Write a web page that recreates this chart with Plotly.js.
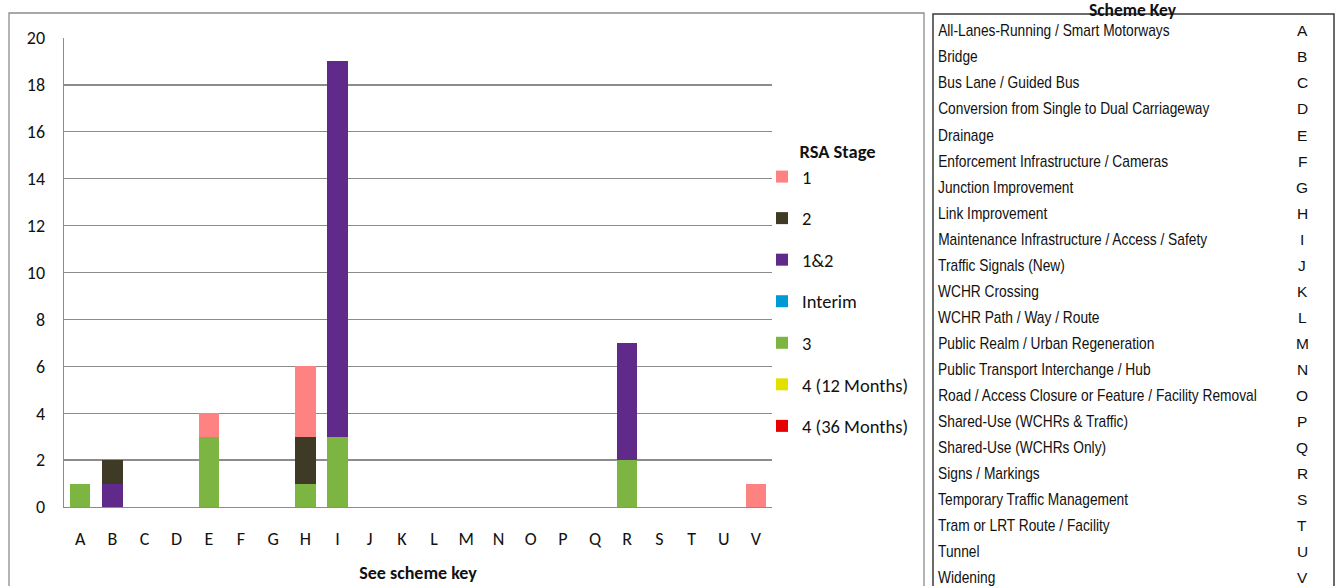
<!DOCTYPE html>
<html>
<head>
<meta charset="utf-8">
<script src="https://cdn.plot.ly/plotly-3.0.1.min.js"></script>
<style>
  html, body { margin: 0; padding: 0; background: #fff; }
  #chart { width: 1336px; height: 586px; }
</style>
</head>
<body>
<div id="chart"></div>
<script>
// Scheme categories (x axis) and their descriptions for the key
const categories = ['A','B','C','D','E','F','G','H','I','J','K','L','M','N','O','P','Q','R','S','T','U','V'];
const schemeNames = [
  'All-Lanes-Running / Smart Motorways',
  'Bridge',
  'Bus Lane / Guided Bus',
  'Conversion from Single to Dual Carriageway',
  'Drainage',
  'Enforcement Infrastructure / Cameras',
  'Junction Improvement',
  'Link Improvement',
  'Maintenance Infrastructure / Access / Safety',
  'Traffic Signals (New)',
  'WCHR Crossing',
  'WCHR Path / Way / Route',
  'Public Realm / Urban Regeneration',
  'Public Transport Interchange / Hub',
  'Road / Access Closure or Feature / Facility Removal',
  'Shared-Use (WCHRs & Traffic)',
  'Shared-Use (WCHRs Only)',
  'Signs / Markings',
  'Temporary Traffic Management',
  'Tram or LRT Route / Facility',
  'Tunnel',
  'Widening'
];

// Number of audits per RSA stage, by scheme category (A..V)
const stage1      = [0,0,0,0,1,0,0,3,0,0,0,0,0,0,0,0,0,0,0,0,0,1];
const stage2      = [0,1,0,0,0,0,0,2,0,0,0,0,0,0,0,0,0,0,0,0,0,0];
const stage1and2  = [0,1,0,0,0,0,0,0,16,0,0,0,0,0,0,0,0,5,0,0,0,0];
const interim     = [0,0,0,0,0,0,0,0,0,0,0,0,0,0,0,0,0,0,0,0,0,0];
const stage3      = [1,0,0,0,3,0,0,1,3,0,0,0,0,0,0,0,0,2,0,0,0,0];
const stage4m12   = [0,0,0,0,0,0,0,0,0,0,0,0,0,0,0,0,0,0,0,0,0,0];
const stage4m36   = [0,0,0,0,0,0,0,0,0,0,0,0,0,0,0,0,0,0,0,0,0,0];

const stageNames = ['1', '2', '1&2', 'Interim', '3', '4 (12 Months)', '4 (36 Months)'];

// Stacked bottom-to-top; legend rank puts stage 1 first
const seriesDefs = [
  { name: stageNames[6], y: stage4m36,  color: '#E60000', rank: 7 },
  { name: stageNames[5], y: stage4m12,  color: '#E3E000', rank: 6 },
  { name: stageNames[4], y: stage3,     color: '#7DB543', rank: 5 },
  { name: stageNames[3], y: interim,    color: '#0099D8', rank: 4 },
  { name: stageNames[2], y: stage1and2, color: '#5F2A8A', rank: 3 },
  { name: stageNames[1], y: stage2,     color: '#3E3A25', rank: 2 },
  { name: stageNames[0], y: stage1,     color: '#FF8282', rank: 1 }
];

const traces = seriesDefs.map((s, i) => ({
  type: 'bar',
  name: s.name,
  x: categories,
  y: s.y,
  legendgroup: 'g' + s.rank,
  legendrank: s.rank,
  marker: { color: s.color, line: { width: 0 } },
  hoverinfo: 'x+y+name'
}));

// Plot area in pixels
const W = 1336, H = 586;
const PL = 64, PR = 772, PT = 38, PB = 507;
const fx = px => (px - PL) / (PR - PL);
const fy = py => (PB - py) / (PB - PT);

const chartFont = 'Carlito, Lato, "Open Sans", sans-serif';
const keyFont = '"Liberation Sans", Arial, sans-serif';

const shapes = [
  // chart frame
  { type: 'rect', xref: 'paper', yref: 'paper',
    x0: fx(9), x1: fx(924), y0: fy(600), y1: fy(13),
    line: { color: '#8c8c8c', width: 1.3 }, fillcolor: 'rgba(0,0,0,0)', layer: 'below' },
  // scheme key box
  { type: 'rect', xref: 'paper', yref: 'paper',
    x0: fx(933), x1: fx(1334), y0: fy(600), y1: fy(14),
    line: { color: '#3a3a3a', width: 1.5 }, fillcolor: 'rgba(0,0,0,0)', layer: 'below' }
];

const annotations = [
  { text: '<b>Scheme Key</b>', xref: 'paper', yref: 'paper',
    x: fx(1133), y: fy(10.5), xanchor: 'center', yanchor: 'middle', showarrow: false,
    borderpad: 0,
    font: { family: chartFont, size: 17.5, color: '#111' } }
];
const nameIdx = [];
schemeNames.forEach((name, i) => {
  const rowY = 30.8 + i * 26.05;
  nameIdx.push(annotations.length);
  annotations.push({
    text: name, xref: 'paper', yref: 'paper', x: fx(936), y: fy(rowY),
    xanchor: 'left', yanchor: 'middle', showarrow: false,
    font: { family: keyFont, size: 16, color: '#111' }
  });
  annotations.push({
    text: categories[i], xref: 'paper', yref: 'paper', x: fx(1302), y: fy(rowY),
    xanchor: 'center', yanchor: 'middle', showarrow: false,
    font: { family: keyFont, size: 15.5, color: '#111' }
  });
});

const layout = {
  width: W, height: H,
  margin: { l: PL, r: W - PR, t: PT, b: H - PB, pad: 0 },
  paper_bgcolor: '#fff', plot_bgcolor: '#fff',
  barmode: 'stack',
  bargap: 0.36,
  font: { family: chartFont, size: 18, color: '#111' },
  showlegend: true,
  legend: {
    title: { text: '<b>RSA Stage</b>', side: 'top center', font: { size: 18.5 } },
    traceorder: 'grouped',
    tracegroupgap: 14.5,
    x: fx(762), xanchor: 'left',
    y: fy(134), yanchor: 'top',
    font: { family: chartFont, size: 18.5, color: '#111' },
    bgcolor: 'rgba(0,0,0,0)', borderwidth: 0
  },
  xaxis: {
    type: 'category',
    range: [-0.5, 21.5],
    showline: true, linecolor: '#8c8c8c', linewidth: 1.3,
    showgrid: false, ticks: '', ticklabelstandoff: 15,
    tickfont: { family: chartFont, size: 18, color: '#111' },
    title: { text: '<b>See scheme key</b>', standoff: 17, font: { family: chartFont, size: 18, color: '#111' } },
    fixedrange: true
  },
  yaxis: {
    range: [0, 20], dtick: 2,
    showline: true, linecolor: '#8c8c8c', linewidth: 1.3,
    showgrid: true, gridcolor: '#8c8c8c', gridwidth: 1.3,
    zeroline: false, ticks: '', ticklabelstandoff: 14,
    tickfont: { family: chartFont, size: 18, color: '#111' },
    fixedrange: true
  },
  shapes: shapes,
  annotations: annotations
};

Plotly.newPlot('chart', traces, layout, { displayModeBar: false, staticPlot: true }).then(gd => {
  // Narrow the key descriptions horizontally, anchored at their left edge
  nameIdx.forEach(i => {
    const t = gd.querySelector('g.annotation[data-index="' + i + '"] text.annotation-text');
    if (t) {
      t.style.transformBox = 'fill-box';
      t.style.transformOrigin = 'left center';
      t.style.transform = 'scaleX(0.86)';
    }
  });
});
</script>
</body>
</html>
